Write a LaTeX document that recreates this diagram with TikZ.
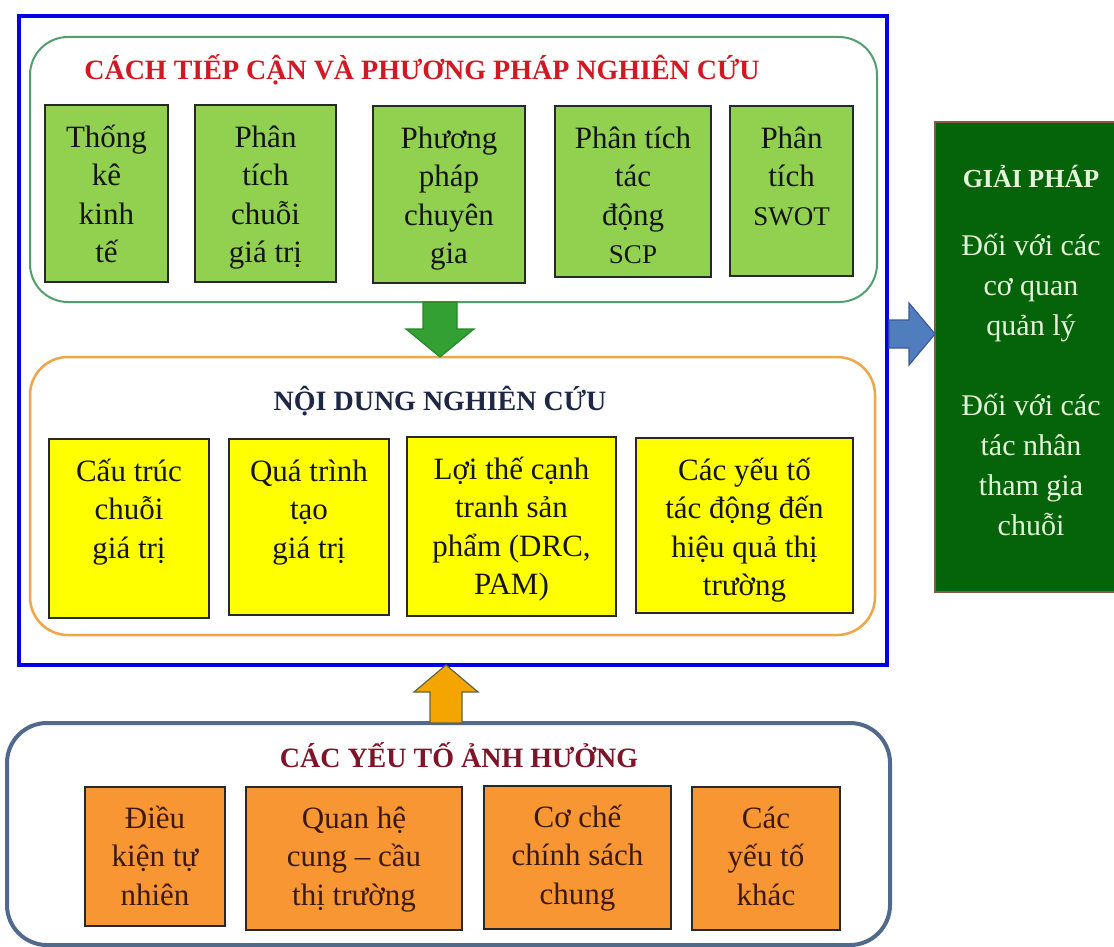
\documentclass[tikz,border=0pt]{standalone}
\usepackage{fontspec}
\setmainfont{Liberation Serif}
\usetikzlibrary{fit,calc}
\definecolor{mainblue}{RGB}{0,0,230}
\definecolor{grnline}{RGB}{80,160,110}
\definecolor{orgline}{RGB}{240,165,70}
\definecolor{slate}{RGB}{80,105,140}
\definecolor{lgreen}{RGB}{146,208,80}
\definecolor{yel}{RGB}{255,255,0}
\definecolor{orng}{RGB}{247,150,50}
\definecolor{dkgreen}{RGB}{5,100,10}
\definecolor{solborder}{RGB}{130,90,70}
\definecolor{solText}{RGB}{228,245,218}
\definecolor{boxline}{RGB}{40,40,40}
\definecolor{txtdark}{RGB}{20,20,20}
\definecolor{txtbrown}{RGB}{60,25,10}
\definecolor{ttlred}{RGB}{210,25,35}
\definecolor{ttlnavy}{RGB}{30,40,70}
\definecolor{ttldkred}{RGB}{125,20,40}
\definecolor{garrow}{RGB}{50,160,50}
\definecolor{garrowline}{RGB}{40,135,40}
\definecolor{oarrow}{RGB}{245,165,0}
\definecolor{oarrowline}{RGB}{95,100,70}
\definecolor{barrow}{RGB}{80,125,190}
\definecolor{barrowline}{RGB}{60,90,150}
\begin{document}
\begin{tikzpicture}[x=1pt,y=-1pt,
  frame/.style={inner sep=0pt, outer sep=0pt},
  box/.style={draw=boxline, line width=1.6pt, inner sep=0pt, outer sep=0pt},
  gbox/.style={box, fill=lgreen},
  ybox/.style={box, fill=yel},
  obox/.style={box, fill=orng},
  btext/.style={align=center, inner sep=0pt, anchor=north, text=txtdark,
    font=\fontsize{31}{38.5}\selectfont},
  otext/.style={btext, text=txtbrown},
  soltext/.style={align=center, inner sep=0pt, anchor=north, text=solText,
    font=\fontsize{30}{40}\selectfont},
  ttl/.style={anchor=base, inner sep=0pt, font=\bfseries\fontsize{28}{34}\selectfont},
  blockarrow/.style={line width=1.2pt, line join=miter},
]
\useasboundingbox (0,0) rectangle (1114,947);
\fill[white] (0,0) rectangle (1114,947);

% frames
\node[frame, draw=mainblue, line width=4.5pt, fit={(19,16) (887,665)}] (main) {};
\node[frame, draw=grnline, line width=2pt, rounded corners=38pt, fit={(30,37) (877,302)}] (approach) {};
\node[frame, draw=orgline, line width=2.5pt, rounded corners=38pt, fit={(30,357) (875,635)}] (content) {};
\node[frame, draw=slate, line width=4pt, rounded corners=40pt, fit={(7,723) (890,945)}] (factors) {};
\node[frame, fill=dkgreen, fit={(935,122) (1114,592)}] (sol) {};
\draw[solborder, line width=1.2pt] (sol.north east) -- (sol.north west) -- (sol.south west) -- (sol.south east);

% titles
\node[ttl, text=ttlred] (approachT) at (422,80) {CÁCH TIẾP CẬN VÀ PHƯƠNG PHÁP NGHIÊN CỨU};
\node[ttl, text=ttlnavy] (contentT) at (440,410) {NỘI DUNG NGHIÊN CỨU};
\node[ttl, text=ttldkred] (factorsT) at (459,767) {CÁC YẾU TỐ ẢNH HƯỞNG};

% green boxes
\node[gbox, fit={(45,105) (168,282)}] (g1) {};
\node[gbox, fit={(195,105) (336,282)}] (g2) {};
\node[gbox, fit={(373,106) (525,283)}] (g3) {};
\node[gbox, fit={(555,106) (711,277)}] (g4) {};
\node[gbox, fit={(730,106) (853,276)}] (g5) {};
\node[btext, yshift=-15pt] (g1t) at (g1.north) {\strut Thống\\kê\\kinh\\tế};
\node[btext, yshift=-15pt] (g2t) at (g2.north) {\strut Phân\\tích\\chuỗi\\giá trị};
\node[btext, yshift=-15pt] (g3t) at (g3.north) {\strut Phương\\pháp\\chuyên\\gia};
\node[btext, yshift=-15pt] (g4t) at (g4.north) {\strut Phân tích\\tác\\động\\{\fontsize{27}{38.5}\selectfont SCP}};
\node[btext, yshift=-15pt] (g5t) at (g5.north) {\strut Phân\\tích\\{\fontsize{27}{38.5}\selectfont SWOT}};

% yellow boxes
\node[ybox, fit={(49,439) (209,618)}] (y1) {};
\node[ybox, fit={(229,439) (389,615)}] (y2) {};
\node[ybox, fit={(407,437) (616,616)}] (y3) {};
\node[ybox, fit={(636,438) (853,613)}] (y4) {};
\node[btext, yshift=-15pt] (y1t) at (y1.north) {\strut Cấu trúc\\chuỗi\\giá trị};
\node[btext, yshift=-15pt] (y2t) at (y2.north) {\strut Quá trình\\tạo\\giá trị};
\node[btext, yshift=-15pt] (y3t) at (y3.north) {\strut Lợi thế cạnh\\tranh sản\\phẩm (DRC,\\PAM)};
\node[btext, yshift=-15pt] (y4t) at (y4.north) {\strut Các yếu tố\\tác động đến\\hiệu quả thị\\trường};

% orange boxes
\node[obox, fit={(85,787) (225,926)}] (o1) {};
\node[obox, fit={(246,787) (462,930)}] (o2) {};
\node[obox, fit={(484,786) (671,929)}] (o3) {};
\node[obox, fit={(692,787) (840,930)}] (o4) {};
\node[otext, yshift=-14pt] (o1t) at (o1.north) {\strut Điều\\kiện tự\\nhiên};
\node[otext, yshift=-14pt] (o2t) at (o2.north) {\strut Quan hệ\\cung – cầu\\thị trường};
\node[otext, yshift=-14pt] (o3t) at (o3.north) {\strut Cơ chế\\chính sách\\chung};
\node[otext, yshift=-14pt] (o4t) at (o4.north) {\strut Các\\yếu tố\\khác};

% solution texts
\node[anchor=base, inner sep=0pt, text=solText, font=\bfseries\fontsize{26}{32}\selectfont] (solT) at (1031,187) {GIẢI PHÁP};
\node[soltext] (sol1) at (1031,227) {\strut Đối với các\\cơ quan\\quản lý};
\node[soltext] (sol2) at (1031,387) {\strut Đối với các\\tác nhân\\tham gia\\chuỗi};

% block arrows
\coordinate (gax) at (440,0);
\coordinate (gs) at (gax |- approach.south);
\coordinate (gt) at (gax |- content.north);
\draw[blockarrow, fill=garrow, draw=garrowline]
  ($(gs)+(-17,0)$) -- ($(gt)+(-17,-28)$) -- ($(gt)+(-34,-28)$) -- (gt)
  -- ($(gt)+(34,-28)$) -- ($(gt)+(17,-28)$) -- ($(gs)+(17,0)$) -- cycle;

\coordinate (oax) at (446,0);
\coordinate (os) at (oax |- factors.north);
\coordinate (ot) at (oax |- main.south);
\draw[blockarrow, fill=oarrow, draw=oarrowline]
  ($(os)+(-16,0)$) -- ($(ot)+(-16,27)$) -- ($(ot)+(-32,27)$) -- (ot)
  -- ($(ot)+(32,27)$) -- ($(ot)+(16,27)$) -- ($(os)+(16,0)$) -- cycle;

\coordinate (bay) at (0,334);
\coordinate (bs) at (main.east |- bay);
\coordinate (bt) at (sol.west |- bay);
\draw[blockarrow, fill=barrow, draw=barrowline]
  ($(bs)+(2,-14)$) -- ($(bt)+(-26,-14)$) -- ($(bt)+(-26,-31)$) -- (bt)
  -- ($(bt)+(-26,31)$) -- ($(bt)+(-26,14)$) -- ($(bs)+(2,14)$) -- cycle;
\end{tikzpicture}
\end{document}
